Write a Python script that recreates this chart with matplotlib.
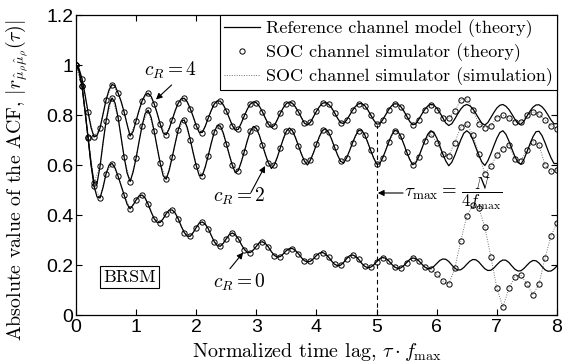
import numpy as np
import matplotlib
matplotlib.use('Agg')
import matplotlib.pyplot as plt
from matplotlib.lines import Line2D

plt.rcParams['font.family'] = ['cmr10', 'DejaVu Serif']
plt.rcParams['mathtext.fontset'] = 'cm'
plt.rcParams['axes.formatter.use_mathtext'] = True
plt.rcParams['axes.unicode_minus'] = False

# ---------------- data ----------------
# reference channel model (theory), sampled every 0.05 of tau*fmax
ref_cR4 = [1.000, 0.986, 0.945, 0.882, 0.812, 0.750, 0.712, 0.718, 0.748, 0.805,
           0.860, 0.901, 0.922, 0.917, 0.888, 0.855, 0.812, 0.762, 0.716, 0.734,
           0.777, 0.820, 0.857, 0.881, 0.887, 0.874, 0.845, 0.807, 0.764, 0.728,
           0.721, 0.745, 0.781, 0.818, 0.847, 0.865, 0.867, 0.853, 0.826, 0.793,
           0.757, 0.730, 0.730, 0.755, 0.788, 0.819, 0.844, 0.857, 0.855, 0.841,
           0.817, 0.788, 0.758, 0.739, 0.743, 0.768, 0.797, 0.824, 0.844, 0.853,
           0.849, 0.835, 0.813, 0.787, 0.763, 0.750, 0.758, 0.782, 0.808, 0.830,
           0.846, 0.852, 0.847, 0.832, 0.812, 0.789, 0.767, 0.760, 0.771, 0.793,
           0.815, 0.834, 0.847, 0.850, 0.843, 0.829, 0.809, 0.787, 0.769, 0.766,
           0.779, 0.799, 0.819, 0.835, 0.845, 0.846, 0.838, 0.822, 0.801, 0.780,
           0.764, 0.764, 0.780, 0.801, 0.821, 0.837, 0.845, 0.844, 0.834, 0.817,
           0.796, 0.774, 0.761, 0.764, 0.782, 0.803, 0.822, 0.836, 0.843, 0.840,
           0.828, 0.810, 0.789, 0.768, 0.758, 0.765, 0.784, 0.805, 0.824, 0.837,
           0.842, 0.837, 0.825, 0.806, 0.786, 0.767, 0.760, 0.770, 0.790, 0.810,
           0.828, 0.839, 0.842, 0.835, 0.822, 0.803, 0.783, 0.766, 0.763, 0.775,
           0.795, 0.815, 0.831, 0.840, 0.841, 0.833, 0.819, 0.800, 0.780, 0.765,
           0.765]

ref_cR2 = [1.000, 0.978, 0.917, 0.818, 0.712, 0.605, 0.530, 0.527, 0.595, 0.690,
           0.775, 0.840, 0.868, 0.848, 0.790, 0.712, 0.632, 0.568, 0.534, 0.572,
           0.629, 0.695, 0.758, 0.806, 0.819, 0.790, 0.735, 0.670, 0.608, 0.557,
           0.543, 0.579, 0.631, 0.687, 0.740, 0.776, 0.780, 0.750, 0.702, 0.647,
           0.597, 0.558, 0.557, 0.592, 0.638, 0.688, 0.732, 0.759, 0.756, 0.728,
           0.685, 0.640, 0.599, 0.569, 0.578, 0.613, 0.654, 0.698, 0.735, 0.754,
           0.747, 0.719, 0.681, 0.642, 0.608, 0.586, 0.601, 0.632, 0.670, 0.706,
           0.736, 0.748, 0.737, 0.710, 0.677, 0.643, 0.615, 0.600, 0.620, 0.649,
           0.683, 0.715, 0.739, 0.745, 0.731, 0.704, 0.671, 0.640, 0.615, 0.608,
           0.628, 0.657, 0.689, 0.718, 0.738, 0.740, 0.722, 0.692, 0.659, 0.628,
           0.604, 0.604, 0.628, 0.658, 0.691, 0.720, 0.738, 0.736, 0.715, 0.685,
           0.652, 0.622, 0.601, 0.608, 0.633, 0.664, 0.696, 0.723, 0.737, 0.731,
           0.708, 0.677, 0.644, 0.616, 0.597, 0.611, 0.638, 0.670, 0.701, 0.727,
           0.737, 0.727, 0.702, 0.670, 0.638, 0.612, 0.598, 0.617, 0.645, 0.677,
           0.707, 0.730, 0.737, 0.723, 0.696, 0.664, 0.634, 0.610, 0.603, 0.623,
           0.652, 0.684, 0.713, 0.733, 0.735, 0.718, 0.690, 0.658, 0.629, 0.606,
           0.606]

ref_cR0 = [1.000, 0.978, 0.915, 0.815, 0.710, 0.600, 0.515, 0.472, 0.468, 0.510,
           0.565, 0.600, 0.606, 0.588, 0.555, 0.518, 0.480, 0.443, 0.425, 0.440,
           0.460, 0.477, 0.480, 0.468, 0.443, 0.412, 0.385, 0.370, 0.370, 0.385,
           0.405, 0.420, 0.420, 0.408, 0.385, 0.355, 0.330, 0.315, 0.315, 0.330,
           0.350, 0.368, 0.372, 0.364, 0.345, 0.318, 0.293, 0.277, 0.275, 0.287,
           0.305, 0.322, 0.328, 0.322, 0.305, 0.282, 0.262, 0.250, 0.250, 0.260,
           0.275, 0.290, 0.293, 0.286, 0.272, 0.253, 0.238, 0.231, 0.234, 0.245,
           0.258, 0.266, 0.266, 0.258, 0.245, 0.229, 0.217, 0.212, 0.215, 0.225,
           0.238, 0.248, 0.250, 0.244, 0.232, 0.216, 0.203, 0.197, 0.199, 0.210,
           0.225, 0.237, 0.240, 0.235, 0.223, 0.207, 0.195, 0.189, 0.191, 0.200,
           0.213, 0.225, 0.230, 0.227, 0.217, 0.203, 0.192, 0.186, 0.188, 0.197,
           0.210, 0.222, 0.228, 0.226, 0.217, 0.204, 0.192, 0.185, 0.186, 0.194,
           0.206, 0.218, 0.224, 0.223, 0.214, 0.200, 0.187, 0.180, 0.181, 0.190,
           0.203, 0.215, 0.222, 0.221, 0.212, 0.198, 0.185, 0.178, 0.179, 0.188,
           0.201, 0.213, 0.220, 0.219, 0.210, 0.196, 0.183, 0.176, 0.177, 0.186,
           0.199, 0.211, 0.218, 0.217, 0.208, 0.194, 0.181, 0.175, 0.176, 0.184,
           0.196]

# SOC channel simulator: coincides with the reference up to tau*fmax = 5.8,
# then its own values (every 0.1) from 5.9 to 8.0
soc_tail_cR4 = [0.840, 0.822, 0.789, 0.787, 0.815, 0.862, 0.864, 0.822, 0.765, 0.750, 0.757,
                0.790, 0.800, 0.787, 0.772, 0.772, 0.800, 0.813, 0.803, 0.780, 0.757, 0.745]
soc_tail_cR2 = [0.725, 0.690, 0.643, 0.637, 0.690, 0.753, 0.765, 0.720, 0.645, 0.565, 0.595,
                0.640, 0.665, 0.680, 0.625, 0.618, 0.660, 0.693, 0.680, 0.600, 0.575, 0.580]
soc_tail_cR0 = [0.183, 0.163, 0.136, 0.123, 0.187, 0.296, 0.396, 0.440, 0.427, 0.351, 0.233,
                0.107, 0.031, 0.107, 0.153, 0.160, 0.124, 0.080, 0.124, 0.227, 0.316, 0.370]

soc_cR4 = ref_cR4[0:117:2] + soc_tail_cR4
soc_cR2 = ref_cR2[0:117:2] + soc_tail_cR2
soc_cR0 = ref_cR0[0:117:2] + soc_tail_cR0

tau_ref = np.arange(len(ref_cR0)) * 0.05
tau_soc = np.arange(len(soc_cR0)) * 0.1

x_ticks = [0, 1, 2, 3, 4, 5, 6, 7, 8]
y_ticks = [0, 0.2, 0.4, 0.6, 0.8, 1.0, 1.2]
y_ticklabels = ['0', '0.2', '0.4', '0.6', '0.8', '1', '1.2']
tau_max = 5.0

legend_labels = ['Reference channel model (theory)',
                 'SOC channel simulator (theory)',
                 'SOC channel simulator (simulation)']

# ---------------- figure ----------------
W, H = 565, 364
fig = plt.figure(figsize=(W / 100, H / 100), dpi=100)
ax = fig.add_axes([76 / W, 1 - 315 / H, 481 / W, 300 / H])

for ref in (ref_cR4, ref_cR2, ref_cR0):
    ax.plot(tau_ref, ref, color='k', lw=0.9, zorder=3)
for soc in (soc_cR4, soc_cR2, soc_cR0):
    ax.plot(tau_soc, soc, color='0.45', ls=(0, (1, 1.5)), lw=0.7, zorder=2)
    ax.plot(tau_soc, soc, ls='none', marker='o', ms=3.8, mfc='none',
            mec='k', mew=0.7, zorder=4)

ax.plot([tau_max, tau_max], [0, 0.762], color='k', lw=0.8, ls=(0, (4, 3)), zorder=1)

ax.set_xlim(0, 8)
ax.set_ylim(0, 1.2)
ax.set_xticks(x_ticks)
ax.set_xticklabels([str(t) for t in x_ticks], fontfamily='Liberation Sans', fontsize=14)
ax.set_yticks(y_ticks)
ax.set_yticklabels(y_ticklabels, fontfamily='Liberation Sans', fontsize=14)
ax.tick_params(axis='both', direction='in', top=True, right=True, length=4, width=0.8)
ax.tick_params(axis='y', pad=2)
ax.tick_params(axis='x', pad=3)
for s in ax.spines.values():
    s.set_linewidth(0.9)

ax.set_xlabel(r'Normalized time lag, $\tau\cdot f_{\max}$', fontsize=14.5)
ax.xaxis.set_label_coords(0.5, -0.088)
ax.set_ylabel(r'Absolute value of the ACF, $|r_{\hat{\mu}_\rho\hat{\mu}_\rho}(\tau)|$',
              fontsize=14.3)
ax.yaxis.set_label_coords(-0.094, 0.45)

arrow_kw = dict(arrowstyle='-|>', color='k', lw=0.8, mutation_scale=9,
                shrinkA=0, shrinkB=0)
ax.text(1.565, 0.98, r'$c_R = 4$', ha='center', va='center', fontsize=14)
ax.annotate('', xy=(1.33, 0.862), xytext=(1.59, 0.92), arrowprops=arrow_kw)
ax.text(2.71, 0.476, r'$c_R = 2$', ha='center', va='center', fontsize=14)
ax.annotate('', xy=(3.145, 0.596), xytext=(2.91, 0.49), arrowprops=arrow_kw)
ax.text(2.71, 0.132, r'$c_R = 0$', ha='center', va='center', fontsize=14)
ax.annotate('', xy=(2.78, 0.25), xytext=(2.56, 0.185), arrowprops=arrow_kw)

ax.text(5.45, 0.486, r'$\tau_{\max}=$', ha='left', va='center', fontsize=13.5)
ax.text(6.40, 0.486, r'$\dfrac{N}{4f_{\max}}$', ha='left', va='center', fontsize=12)
ax.annotate('', xy=(5.02, 0.488), xytext=(5.44, 0.488), arrowprops=arrow_kw)

ax.text(0.89, 0.152, 'BRSM', ha='center', va='center', fontsize=13,
        bbox=dict(boxstyle='square,pad=0.2', fc='white', ec='k', lw=0.8))

handles = [Line2D([], [], color='k', lw=0.9),
           Line2D([], [], ls='none', marker='o', ms=3.8, mfc='none', mec='k', mew=0.7),
           Line2D([], [], color='0.45', ls=(0, (1, 1.5)), lw=0.7)]
leg = ax.legend(handles, legend_labels, loc='upper right', bbox_to_anchor=(1, 1),
                borderaxespad=0, fancybox=False, framealpha=1, edgecolor='k',
                fontsize=13, handlelength=2.0, handletextpad=0.3,
                borderpad=0.25, labelspacing=0.28)
leg.get_frame().set_linewidth(0.8)

fig.savefig('out.png', dpi=100)
